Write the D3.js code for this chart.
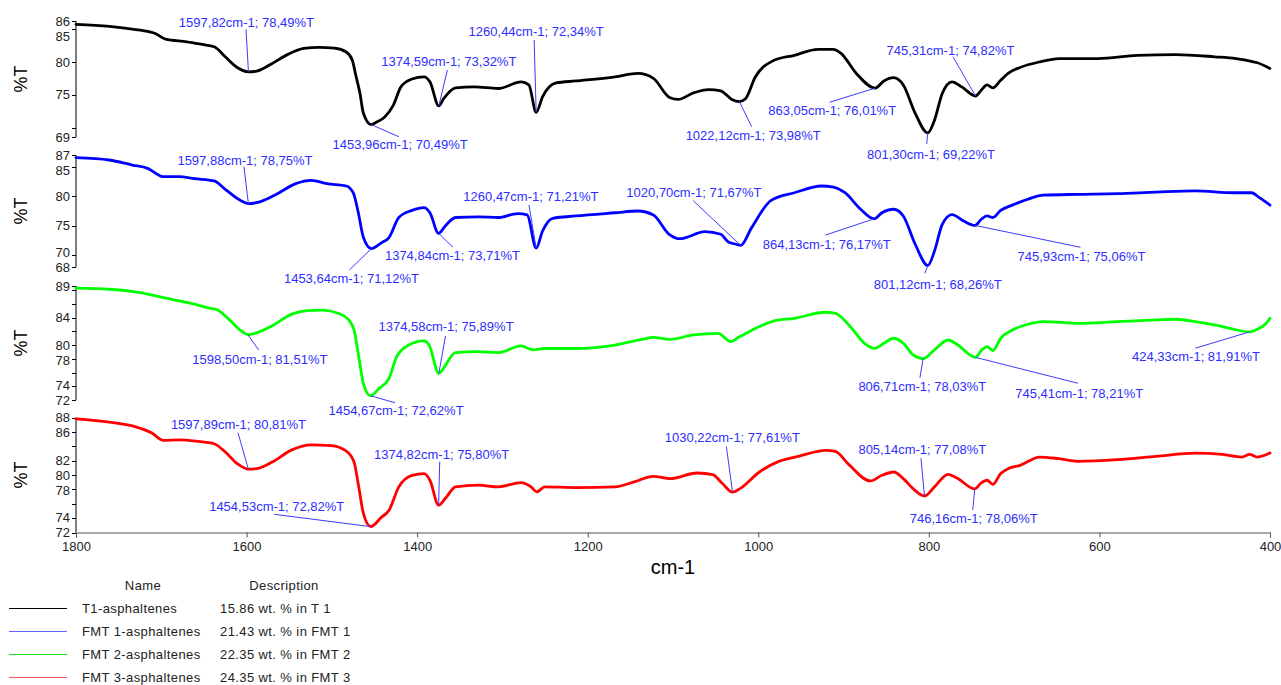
<!DOCTYPE html>
<html>
<head>
<meta charset="utf-8">
<script src="https://cdn.jsdelivr.net/npm/d3@7"></script>
<style>
  body { margin: 0; background: #fff; }
  svg { display: block; font-family: "Liberation Sans", Arial, sans-serif; }
</style>
</head>
<body>
<svg id="chart" width="1281" height="685"></svg>
<script>
// ---------- data ----------
const wavenumberTicks = [1800, 1600, 1400, 1200, 1000, 800, 600, 400];

const seriesNames = ["T1-asphaltenes", "FMT 1-asphaltenes", "FMT 2-asphaltenes", "FMT 3-asphaltenes"];
const seriesDescriptions = ["15.86 wt. % in T 1", "21.43 wt. % in FMT 1", "22.35 wt. % in FMT 2", "24.35 wt. % in FMT 3"];

// [wavenumber cm-1, %T]
const t1Spectrum = [
  [1800, 85.7], [1761, 85.4], [1725, 84.8], [1707, 84.3], [1695, 83.45], [1670, 83.05], [1652, 82.64],
  [1638, 82.3], [1625, 80.77], [1611, 79.15], [1597.82, 78.49], [1588, 78.6], [1570, 79.76], [1552, 81.1],
  [1533, 82.03], [1515, 82.2], [1497, 82.1], [1483, 81.5], [1476, 80.26], [1472, 78.0], [1467, 75.2],
  [1463, 72.2], [1453.96, 70.49], [1447, 70.9], [1438, 71.65], [1428, 73.4], [1419, 76.2], [1406, 77.4],
  [1392, 77.73], [1385, 76.97], [1374.59, 73.32], [1369, 74.4], [1355, 76.06], [1333, 76.2], [1305, 75.96],
  [1278, 76.97], [1269, 76.5], [1260.44, 72.34], [1253, 74.7], [1237, 76.8], [1214, 77.1], [1168, 77.73],
  [1141, 78.24], [1123, 77.5], [1104, 74.6], [1094, 74.3], [1076, 75.3], [1058, 75.8], [1044, 75.6],
  [1031, 74.3], [1022.12, 73.98], [1015, 74.4], [1003.5, 77.7], [982.7, 80.16], [957.6, 81.0], [930, 81.9],
  [912, 81.9], [903, 81.3], [885, 78.24], [863.05, 76.01], [852.7, 77.1], [841.3, 77.6], [830, 76.5],
  [816, 72.2], [801.30, 69.22], [793.4, 71.15], [784.3, 75.2], [772.9, 76.97], [761.4, 76.2], [745.31, 74.82],
  [738.6, 75.7], [731.8, 76.5], [725, 76.06], [715.8, 77.2], [706.7, 78.3], [693, 79.15], [670, 80.0],
  [647.4, 80.5], [601.8, 80.5], [556, 80.97], [510.5, 81.1], [465, 80.77], [440, 80.5], [428.4, 80.26],
  [414.7, 79.86], [400, 79.0]
];
const fmt1Spectrum = [
  [1800, 86.55], [1761, 86.15], [1734, 85.3], [1716, 84.74], [1698, 83.33], [1679, 83.33], [1661, 82.99],
  [1638, 82.6], [1625, 81.18], [1606, 79.2], [1597.88, 78.75], [1583.5, 79.1], [1565, 80.33], [1542.4, 82.14],
  [1524, 82.7], [1506, 82.14], [1483, 81.74], [1475, 80.6], [1469.4, 77.5], [1463, 73.0], [1453.64, 71.12],
  [1442, 72.1], [1433, 73.0], [1421.5, 76.4], [1406, 77.6], [1392, 78.07], [1385, 77.2], [1374.84, 73.71],
  [1367, 74.96], [1355, 76.4], [1328, 76.5], [1305, 76.4], [1282, 77.06], [1271, 76.83], [1260.47, 71.21],
  [1253, 74.1], [1241, 76.26], [1214, 76.66], [1168, 77.2], [1141, 77.5], [1123, 76.83], [1104.5, 73.55],
  [1092, 72.8], [1062.5, 74.0], [1044, 73.55], [1035, 72.25], [1026, 71.86], [1020.70, 71.67], [1007.8, 74.68],
  [985, 79.3], [957.6, 80.6], [925.7, 81.74], [912, 81.57], [898.3, 80.6], [880, 77.8], [864.13, 76.17],
  [855, 77.2], [841.3, 77.8], [830, 76.66], [816, 71.86], [801.12, 68.26], [793.4, 70.7], [784.3, 75.25],
  [772.9, 76.9], [759.2, 75.8], [745.93, 75.06], [738.6, 76.1], [731.8, 76.66], [725, 76.4], [715.8, 77.6],
  [702, 78.5], [684, 79.5], [665.7, 80.2], [624.6, 80.33], [579, 80.44], [533.4, 80.7], [487.7, 80.9],
  [442.1, 80.6], [421.6, 80.6], [412.4, 79.76], [400, 78.5]
];
const fmt2Spectrum = [
  [1800, 88.28], [1761, 88.13], [1725, 87.64], [1693, 86.8], [1670, 86.2], [1643, 85.36], [1634, 85.1],
  [1620, 83.66], [1606, 82.05], [1598.50, 81.51], [1588, 81.8], [1570, 82.8], [1547, 84.5], [1529, 85.0],
  [1510.5, 85.1], [1492, 84.6], [1481, 83.76], [1474, 82.2], [1468.5, 78.3], [1463, 74.4], [1454.67, 72.62],
  [1444.4, 73.7], [1433, 75.16], [1424, 78.3], [1410, 80.0], [1392, 80.6], [1386, 80.0], [1374.58, 75.89],
  [1371, 76.3], [1355, 78.9], [1328, 79.04], [1305, 78.9], [1278, 79.87], [1264, 79.3], [1250.5, 79.5],
  [1214, 79.5], [1168, 80.0], [1136.4, 80.84], [1123, 81.13], [1103.6, 80.84], [1076, 81.47], [1046.6, 81.7],
  [1039.7, 81.1], [1032.9, 80.5], [1021.5, 81.23], [998.7, 82.69], [980.4, 83.56], [957.6, 83.9], [921, 84.78],
  [909.7, 84.63], [893.7, 82.93], [875.5, 80.26], [864, 79.53], [852.7, 80.26], [841.3, 80.99], [829.9, 80.26],
  [818.5, 78.56], [806.71, 78.03], [793.4, 79.3], [777.4, 80.74], [766, 80.0], [745.41, 78.21], [738.6, 79.2],
  [731.8, 79.77], [725, 79.2], [715.8, 80.99], [702, 82.2], [683.9, 83.03], [665.7, 83.42], [624.6, 83.17],
  [579, 83.42], [533.4, 83.66], [510.5, 83.76], [487.7, 83.42], [465, 82.93], [442, 82.3], [424.33, 81.91],
  [414.7, 82.3], [405, 83.1], [400, 83.9]
];
const fmt3Spectrum = [
  [1800, 87.81], [1761, 87.35], [1729, 86.66], [1711, 85.83], [1697.5, 84.81], [1679, 84.9], [1656.5, 84.67],
  [1638, 84.35], [1625, 83.2], [1611, 81.58], [1597.89, 80.81], [1588, 80.9], [1570, 81.8], [1547, 83.5],
  [1524, 84.2], [1501, 84.1], [1483, 83.33], [1474, 81.8], [1468.5, 78.35], [1463, 74.65], [1454.53, 72.82],
  [1442, 74.1], [1433, 75.1], [1421.5, 78.35], [1406, 79.96], [1392, 80.2], [1385, 79.27], [1374.82, 75.80],
  [1367, 76.73], [1355, 78.35], [1328, 78.58], [1305, 78.35], [1278, 78.95], [1266.4, 78.35], [1259.6, 77.65],
  [1250.5, 78.35], [1214, 78.25], [1168, 78.35], [1145.5, 79.04], [1123, 79.82], [1103.6, 79.5], [1071.7, 80.28],
  [1053.4, 80.05], [1042, 78.81], [1030.22, 77.61], [1021.5, 78.1], [998.7, 80.42], [975.9, 81.9], [953, 82.6],
  [921, 83.42], [909.7, 83.28], [893.7, 81.44], [868.7, 79.18], [855, 79.96], [841.3, 80.42], [829.9, 79.5],
  [818.5, 78.1], [805.14, 77.08], [793.4, 78.35], [777.4, 80.1], [766, 79.5], [746.16, 78.06], [738.6, 78.9],
  [731.8, 79.27], [725, 78.7], [715.8, 80.2], [706.7, 80.9], [693, 81.35], [670, 82.5], [647.4, 82.27],
  [624.6, 81.9], [579, 82.13], [533.4, 82.6], [487.7, 83.05], [455.8, 82.87], [433, 82.5], [424, 82.87],
  [414.7, 82.5], [400, 83.05]
];

// labelled peaks [wavenumber, %T]
const t1Peaks = [[1597.82, 78.49], [1374.59, 73.32], [1260.44, 72.34], [1453.96, 70.49],
                 [1022.12, 73.98], [863.05, 76.01], [801.30, 69.22], [745.31, 74.82]];
const fmt1Peaks = [[1597.88, 78.75], [1260.47, 71.21], [1374.84, 73.71], [1453.64, 71.12],
                   [1020.70, 71.67], [864.13, 76.17], [801.12, 68.26], [745.93, 75.06]];
const fmt2Peaks = [[1598.50, 81.51], [1374.58, 75.89], [1454.67, 72.62],
                   [806.71, 78.03], [745.41, 78.21], [424.33, 81.91]];
const fmt3Peaks = [[1597.89, 80.81], [1374.82, 75.80], [1454.53, 72.82],
                   [1030.22, 77.61], [805.14, 77.08], [746.16, 78.06]];

// %T axis extents and ticks for each panel
const t1Extent = [68.6, 86.2],  t1Ticks = [70, 75, 80, 85],                     t1TickLabels = [75, 80, 85];
const fmt1Extent = [68, 87],    fmt1Ticks = [70, 75, 80, 85],                   fmt1TickLabels = [70, 75, 80, 85];
const fmt2Extent = [72, 88.6],  fmt2Ticks = [74, 76, 78, 80, 82, 84, 86, 88],   fmt2TickLabels = [74, 78, 80, 84];
const fmt3Extent = [72, 88],    fmt3Ticks = [74, 76, 78, 80, 82, 84, 86],       fmt3TickLabels = [74, 78, 80, 82, 86];

// ---------- layout ----------
const W = 1281, H = 685;
const plotLeft = 76, plotRight = 1270;
const panelBands = [[21, 137], [155, 267], [286, 400], [417.5, 532.5]];
const lineColors = ["#000000", "#0000ff", "#00ff00", "#ff0000"];
const legendColors = ["#000000", "#6464ff", "#22dd22", "#f05a5a"];
const labelGap = 15;

// callout placement relative to the peak: [text dx, text dy, leader dx, leader dy]
const t1Callouts = [[-2, -49.5, -2.4, -42.5], [10, -45, 8.6, -36], [0, -80.6, -2, -72.3], [29, 19.5, 27.7, 12.2],
                    [13.8, 34.2, 12.2, 25.2], [-42.9, 22.5, -45.6, 14.1], [3.2, 21.1, -1, 11.1], [-25, -45.3, -22.5, -39.3]];
const fmt1Callouts = [[-3.4, -43.6, -4.4, -36.9], [-5.2, -51.4, -7.2, -43.1], [13.9, 22.4, 14.4, 14], [-19.9, 29.7, -22, 21.4],
                      [-46.7, -52.7, -47.4, -44.7], [-47.4, 25.2, -48.6, 16.2], [9.8, 18.5, -3, 7.8], [106.5, 30.6, 105.5, 21.9]];
const fmt2Callouts = [[12, 24.3, 10.8, 15.3], [7.2, -46.6, 6.7, -37.3], [25.5, 14.3, 24.5, 7],
                      [-0.8, 28.1, -3.2, 19.1], [103.8, 35.9, 102.6, 25.9], [-53.3, 24, -54, 16.3]];
const fmt3Callouts = [[-9.9, -45.2, -10.4, -36.5], [3, -51.2, 1.1, -43.5], [-93.9, -19.9, -96.4, -12.3],
                      [-0.2, -54.9, -6.1, -45.5], [-2.1, -46.7, -3.5, -37.7], [-1, 29.4, -2.1, 21.1]];

const panels = [
  { spectrum: t1Spectrum,   peaks: t1Peaks,   extent: t1Extent,   ticks: t1Ticks,   labels: t1TickLabels,   callouts: t1Callouts },
  { spectrum: fmt1Spectrum, peaks: fmt1Peaks, extent: fmt1Extent, ticks: fmt1Ticks, labels: fmt1TickLabels, callouts: fmt1Callouts },
  { spectrum: fmt2Spectrum, peaks: fmt2Peaks, extent: fmt2Extent, ticks: fmt2Ticks, labels: fmt2TickLabels, callouts: fmt2Callouts },
  { spectrum: fmt3Spectrum, peaks: fmt3Peaks, extent: fmt3Extent, ticks: fmt3Ticks, labels: fmt3TickLabels, callouts: fmt3Callouts }
];

const svg = d3.select("#chart");
svg.append("rect").attr("width", W).attr("height", H).attr("fill", "#fff");

const x = d3.scaleLinear().domain([1800, 400]).range([plotLeft, plotRight]);
const comma = v => d3.format(".2f")(v).replace(".", ",");

panels.forEach((p, i) => {
  const [top, bottom] = panelBands[i];
  const y = d3.scaleLinear().domain(p.extent).range([bottom, top]);
  const g = svg.append("g");

  // left axis line with outward ticks
  g.append("line").attr("x1", plotLeft).attr("x2", plotLeft).attr("y1", top).attr("y2", bottom)
    .attr("stroke", "#000").attr("stroke-width", 1);
  const tickSet = [p.extent[0], ...p.ticks, p.extent[1]];
  g.selectAll("line.tick").data(tickSet).join("line")
    .attr("x1", plotLeft - 4).attr("x2", plotLeft)
    .attr("y1", d => Math.round(y(d)) + 0.5).attr("y2", d => Math.round(y(d)) + 0.5)
    .attr("stroke", "#000").attr("stroke-width", 1);

  // tick labels: rounded extents at the ends, interior labels nudged clear of their neighbours
  const lab = [{ t: Math.round(p.extent[1]), py: top }]
    .concat(p.labels.slice().sort((a, b) => b - a).map(v => ({ t: v, py: y(v) })))
    .concat([{ t: Math.round(p.extent[0]), py: bottom }]);
  for (let k = 1; k < lab.length - 1; k++) {
    if (lab[k].py - lab[k - 1].py < labelGap) lab[k].py = lab[k - 1].py + labelGap;
  }
  for (let k = lab.length - 2; k > 0; k--) {
    if (lab[k + 1].py - lab[k].py < labelGap) lab[k].py = lab[k + 1].py - labelGap;
  }
  g.selectAll("text.ylab").data(lab).join("text")
    .attr("x", plotLeft - 6).attr("y", d => d.py).attr("dy", "0.36em")
    .attr("text-anchor", "end").attr("font-size", 13).attr("fill", "#222")
    .text(d => d.t);

  // axis title
  g.append("text")
    .attr("transform", `translate(27,${(top + bottom) / 2}) rotate(-90)`)
    .attr("text-anchor", "middle").attr("font-size", 18).attr("fill", "#000")
    .text("%T");

  // spectrum
  const line = d3.line().x(d => x(d[0])).y(d => y(d[1])).curve(d3.curveMonotoneX);
  g.append("path").datum(p.spectrum).attr("d", line)
    .attr("fill", "none").attr("stroke", lineColors[i]).attr("stroke-width", 2.8)
    .attr("stroke-linejoin", "round").attr("stroke-linecap", "round");

  // peak callouts
  p.peaks.forEach((pk, j) => {
    const [tdx, tdy, ldx, ldy] = p.callouts[j];
    const px = x(pk[0]), py = y(pk[1]);
    g.append("line").attr("x1", px).attr("y1", py).attr("x2", px + ldx).attr("y2", py + ldy)
      .attr("stroke", "#3c3cff").attr("stroke-width", 1);
    g.append("text").attr("x", px + tdx).attr("y", py + tdy).attr("dy", "0.36em")
      .attr("text-anchor", "middle").attr("font-size", 13).attr("fill", "#2e2eff")
      .text(`${comma(pk[0])}cm-1; ${comma(pk[1])}%T`);
  });
});

// wavenumber axis
const xAxis = d3.axisBottom(x).tickValues(wavenumberTicks).tickSize(5).tickPadding(4).tickFormat(d3.format("d"));
const ax = svg.append("g").attr("transform", `translate(0,${panelBands[3][1]})`).call(xAxis);
ax.select(".domain").attr("stroke", "#555");
ax.selectAll(".tick line").attr("stroke", "#555");
ax.selectAll(".tick text").attr("font-size", 13).attr("fill", "#222")
  .attr("font-family", '"Liberation Sans", Arial, sans-serif');
svg.append("text").attr("x", (plotLeft + plotRight) / 2).attr("y", 574)
  .attr("text-anchor", "middle").attr("font-size", 20).attr("fill", "#000").text("cm-1");

// legend
const lg = svg.append("g").attr("font-size", 13).attr("fill", "#222").attr("letter-spacing", 0.4);
lg.append("text").attr("x", 143).attr("y", 585).attr("dy", "0.36em").attr("text-anchor", "middle").text("Name");
lg.append("text").attr("x", 284).attr("y", 585).attr("dy", "0.36em").attr("text-anchor", "middle").text("Description");
seriesNames.forEach((name, i) => {
  const ry = 608 + i * 23;
  lg.append("line").attr("x1", 9).attr("x2", 67).attr("y1", ry + 0.5).attr("y2", ry + 0.5)
    .attr("stroke", legendColors[i]).attr("stroke-width", 1);
  lg.append("text").attr("x", 82).attr("y", ry).attr("dy", "0.36em").text(name);
  lg.append("text").attr("x", 220).attr("y", ry).attr("dy", "0.36em").text(seriesDescriptions[i]);
});
</script>
</body>
</html>
